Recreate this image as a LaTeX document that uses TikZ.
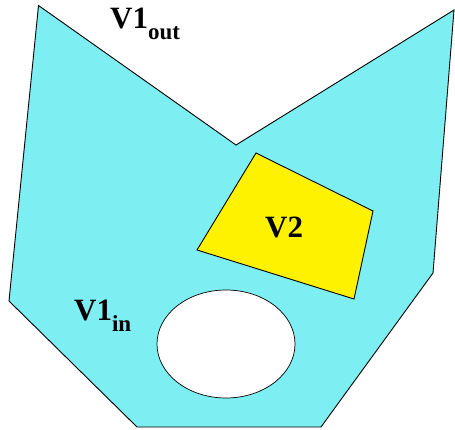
\documentclass[tikz,border=0pt]{standalone}
\usepackage{fontspec}
\setmainfont{Liberation Serif}
\usepackage{tikz}
\usetikzlibrary{positioning,calc}

\definecolor{regioncyan}{RGB}{125,238,242}
\newcommand{\biglab}[2]{{\fontsize{31}{31}\selectfont\bfseries #1\raisebox{-11pt}{\fontsize{23}{23}\selectfont #2}}}

\begin{document}
\begin{tikzpicture}[x=1pt,y=-1pt,
    region/.style={draw,line width=0.9pt,line join=miter},
    lab/.style={anchor=base west,inner sep=0pt}]
    \useasboundingbox (0,0) rectangle (455,430);
    % outer region V1
    \draw[region,fill=regioncyan](38.5,5.5)--(236,145)--(454,10)--(433,273)--(321,427)
        --(137,427)--(9,301)--cycle;
    % hole
    \draw[region,fill=white,line width=0.7pt](226,344) ellipse [x radius=69,y radius=54];
    % inner region V2
    \draw[region,fill=yellow](256,153)--(373,211)--(354,299)--(197,250)--cycle;
    % labels
    \node[lab](vout) at (110,29){\biglab{V1}{out}};
    \node[lab](vin) at (74,320){\biglab{V1}{in}};
    \node[lab](vtwo) at (265,238){{\fontsize{31}{31}\selectfont\bfseries V2}};
\end{tikzpicture}
\end{document}
